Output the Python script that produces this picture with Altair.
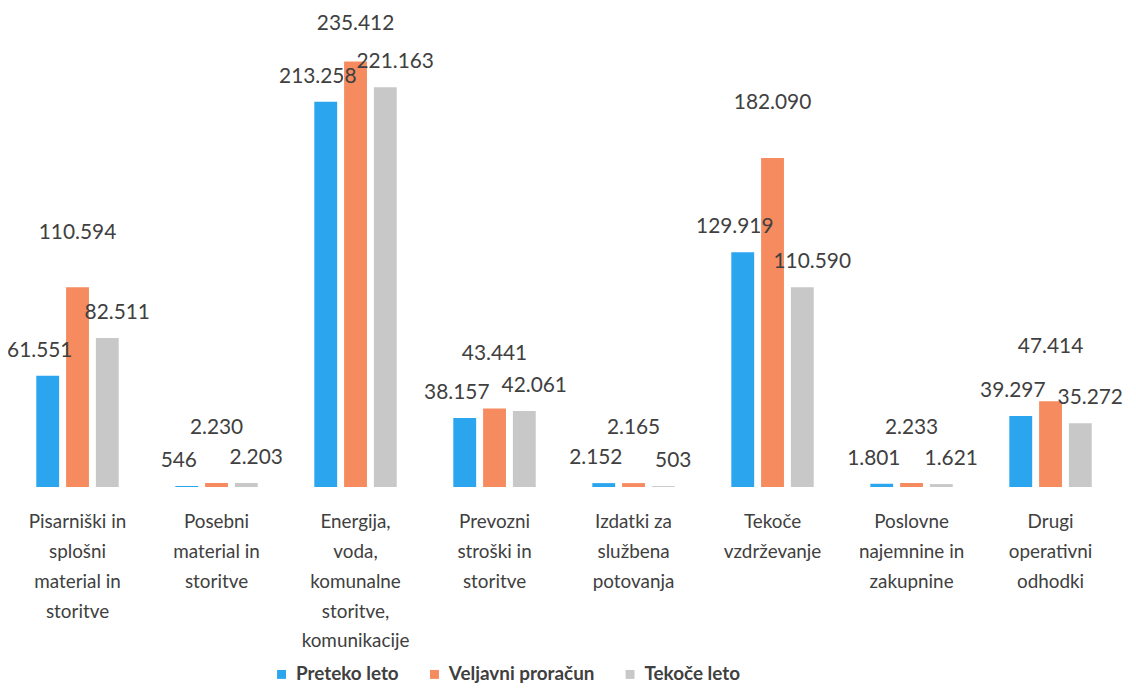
import altair as alt
import pandas as pd

categories = [
    "Pisarniški in\nsplošni\nmaterial in\nstoritve",
    "Posebni\nmaterial in\nstoritve",
    "Energija,\nvoda,\nkomunalne\nstoritve,\nkomunikacije",
    "Prevozni\nstroški in\nstoritve",
    "Izdatki za\nslužbena\npotovanja",
    "Tekoče\nvzdrževanje",
    "Poslovne\nnajemnine in\nzakupnine",
    "Drugi\noperativni\nodhodki",
]
series = ["Preteko leto", "Veljavni proračun", "Tekoče leto"]
preteko = [61551, 546, 213258, 38157, 2152, 129919, 1801, 39297]
veljavni = [110594, 2230, 235412, 43441, 2165, 182090, 2233, 47414]
tekoce = [82511, 2203, 221163, 42061, 503, 110590, 1621, 35272]
colors = ["#2AA5EE", "#F58B5E", "#C8C8C8"]

rows = []
for name, vals in zip(series, [preteko, veljavni, tekoce]):
    for cat, v in zip(categories, vals):
        rows.append({"kategorija": cat, "serija": name, "vrednost": v,
                     "oznaka": f"{v:,}".replace(",", ".")})
df = pd.DataFrame(rows)

base = alt.Chart(df).encode(
    x=alt.X("kategorija:N", sort=categories,
            scale=alt.Scale(domain=categories, paddingInner=0.357, paddingOuter=0.1786),
            axis=alt.Axis(title=None, labelAngle=0, domain=False, ticks=False,
                          labelExpr="split(datum.label, '\\n')",
                          labelFont="Lato", labelFontSize=19, labelColor="#404040",
                          labelLineHeight=30, labelPadding=26, labelOverlap=False,
                          labelLimit=200)),
    xOffset=alt.XOffset("serija:N", sort=series,
                        scale=alt.Scale(domain=series, paddingInner=0.233, paddingOuter=0.1167)),
    y=alt.Y("vrednost:Q", scale=alt.Scale(domain=[0, 250000]), axis=None),
)

bars = base.mark_bar().encode(
    color=alt.Color("serija:N", sort=series,
                    scale=alt.Scale(domain=series, range=colors),
                    legend=alt.Legend(title=None, orient="none", direction="horizontal",
                                      legendX=266, legendY=634,
                                      symbolType="square", symbolSize=81,
                                      symbolStrokeWidth=0,
                                      labelFont="Lato", labelFontSize=19,
                                      labelFontWeight="bold", labelColor="#404040",
                                      labelOffset=5, columnPadding=26))
)

text_style = dict(font="Lato", fontSize=21, color="#404040", baseline="middle")

lab_blue = base.transform_filter(alt.datum.serija == "Preteko leto").mark_text(
    dy=-25, dx=-8, **text_style).encode(text="oznaka:N")
lab_orange = base.transform_filter(
    (alt.datum.serija == "Veljavni proračun") & (alt.datum.vrednost < 200000)
).mark_text(dy=-55, **text_style).encode(text="oznaka:N")
lab_orange_top = base.transform_filter(
    (alt.datum.serija == "Veljavni proračun") & (alt.datum.vrednost >= 200000)
).mark_text(dy=-38, **text_style).encode(text="oznaka:N")
lab_gray = base.transform_filter(alt.datum.serija == "Tekoče leto").mark_text(
    dy=-25, dx=10, **text_style).encode(text="oznaka:N")

chart = alt.layer(bars, lab_blue, lab_orange, lab_orange_top, lab_gray).properties(
    width=1120, height=455,
    autosize=alt.AutoSizeParams(type="none"),
    padding={"left": 0, "top": 25, "right": 8, "bottom": 201},
    background="white",
).configure_view(stroke=None)

chart.save("out.html", embed_options={"renderer": "svg", "actions": False})
